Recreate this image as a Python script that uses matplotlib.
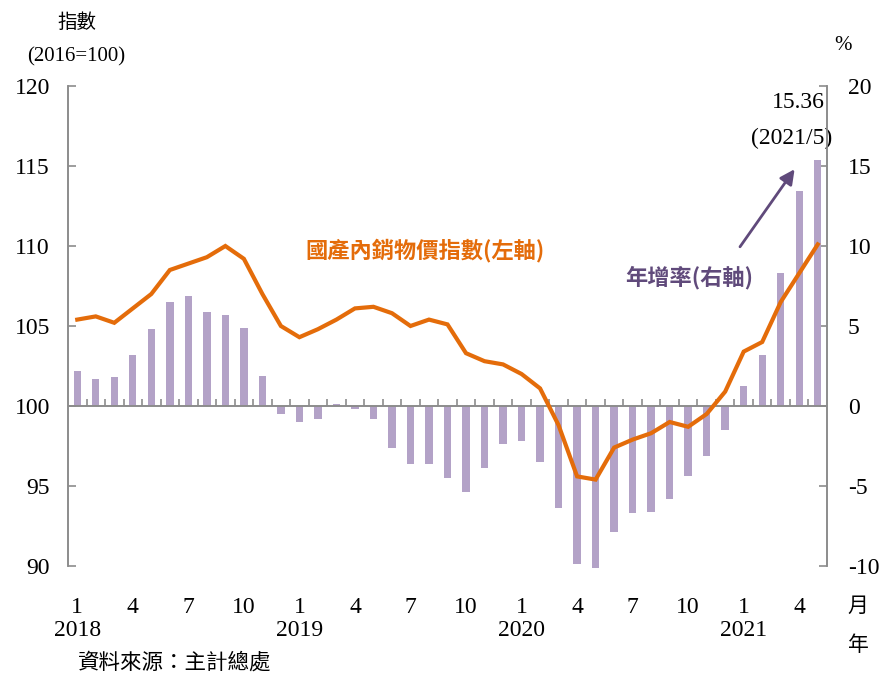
import matplotlib
matplotlib.use("Agg")
import matplotlib.pyplot as plt
import numpy as np

plt.rcParams['font.family'] = ['Liberation Serif', 'Noto Sans CJK TC', 'DejaVu Sans']

# Monthly series, 2018/1 - 2021/5
years = [2018, 2019, 2020, 2021]
months = [m for y in years for m in range(1, 13)][:41]
index_values = [
    105.4, 105.6, 105.2, 106.1, 107.0, 108.5, 108.9, 109.3, 110.0, 109.2, 107.0, 105.0,
    104.3, 104.8, 105.4, 106.1, 106.2, 105.8, 105.0, 105.4, 105.1, 103.3, 102.8, 102.6,
    102.0, 101.1, 98.8, 95.6, 95.4, 97.4, 97.9, 98.3, 99.0, 98.7, 99.5, 100.9,
    103.4, 104.0, 106.5, 108.3, 110.1,
]
yoy_growth = [
    2.2, 1.7, 1.8, 3.2, 4.8, 6.5, 6.9, 5.9, 5.7, 4.9, 1.9, -0.5,
    -1.0, -0.8, 0.1, -0.2, -0.8, -2.6, -3.6, -3.6, -4.5, -5.4, -3.9, -2.4,
    -2.2, -3.5, -6.4, -9.9, -10.1, -7.9, -6.7, -6.6, -5.8, -4.4, -3.1, -1.5,
    1.25, 3.2, 8.3, 13.45, 15.36,
]
tick_months = [1, 4, 7, 10]
line_label = "國產內銷物價指數(左軸)"
bar_label = "年增率(右軸)"
source_text = "資料來源：主計總處"

ORANGE = "#e46c0a"
PURPLE_BAR = "#b3a2c7"
PURPLE_TXT = "#604a7b"
GRAY = "#8c8c8c"
CJK = ['Noto Sans CJK TC', 'Liberation Serif']

fig = plt.figure(figsize=(8.81, 6.78), dpi=100)
ax = fig.add_axes([68 / 881, 1 - 566 / 678, (827 - 68) / 881, (566 - 86) / 678])
ax2 = ax.twinx()
ax.set_zorder(ax2.get_zorder() + 1)
ax.patch.set_visible(False)

x = np.arange(len(months))

# growth bars on the right axis
ax2.bar(x, yoy_growth, width=0.4, color=PURPLE_BAR, zorder=2, clip_on=False)
ax2.set_ylim(-10, 20)
ax2.set_yticks(np.arange(-10, 21, 5))
ax2.set_yticklabels([str(v) for v in range(-10, 21, 5)], fontsize=17)

# index line on the left axis
ax.plot(x, index_values, color=ORANGE, lw=3.0, solid_joinstyle='miter', zorder=5)
ax.set_ylim(90, 120)
ax.set_yticks(np.arange(90, 121, 5))
ax.set_yticklabels([str(v) for v in range(90, 121, 5)], fontsize=17)
ax.set_xlim(-0.5, len(months) - 0.5)

for a in (ax, ax2):
    for s in ('top', 'bottom'):
        a.spines[s].set_visible(False)
    for s in ('left', 'right'):
        a.spines[s].set_color(GRAY)
        a.spines[s].set_linewidth(1.2)
ax.tick_params(axis='y', direction='in', length=6, width=1.2, color=GRAY, pad=13)
ax2.tick_params(axis='y', direction='in', length=6, width=1.2, color=GRAY, pad=15)

# zero line with month separators
ax.axhline(100, color=GRAY, lw=1.4, zorder=3)
bounds = np.arange(0.5, len(months) - 1, 1.0)
ax.vlines(bounds, 1 / 3, 1 / 3 + 0.015, transform=ax.get_xaxis_transform(),
          color=GRAY, lw=1.2, zorder=3)

# month and year labels
pos = [i for i, m in enumerate(months) if m in tick_months]
ax.set_xticks(pos)
ax.set_xticklabels([str(months[i]) for i in pos], fontsize=17)
ax.tick_params(axis='x', length=0, pad=22)
for i, m in enumerate(months):
    if m == 1:
        ax.text(i, -0.135, str(years[i // 12]), transform=ax.get_xaxis_transform(),
                ha='center', va='center', fontsize=17)

fig.text(858 / 881, 1 - 606 / 678, "月", fontsize=15, family=CJK, ha='center', va='center')
fig.text(858 / 881, 1 - 645 / 678, "年", fontsize=15, family=CJK, ha='center', va='center')
fig.text(78 / 881, 1 - 663 / 678, source_text, fontsize=15.5, family=CJK, ha='left', va='center')

# axis headers
fig.text(77 / 881, 1 - 23 / 678, "指數", fontsize=14, family=CJK, ha='center', va='center')
fig.text(76 / 881, 1 - 57 / 678, "(2016=100)", fontsize=15, ha='center', va='center')
fig.text(843 / 881, 1 - 45 / 678, "%", fontsize=15, ha='center', va='center')

# series labels
ax.text(12.3, 109.75, line_label, color=ORANGE, fontsize=16, fontweight='bold',
        family=CJK, ha='left', va='center')
ax.text(29.6, 108.05, bar_label, color=PURPLE_TXT, fontsize=16, fontweight='bold',
        family=CJK, ha='left', va='center')

# callout for the latest growth value
last = len(months) - 1
ax.annotate("", xy=(38.75, 114.8), xytext=(35.8, 109.95),
            arrowprops=dict(arrowstyle='-|>', color=PURPLE_TXT, lw=2.0,
                            mutation_scale=22, shrinkA=0, shrinkB=0))
ax2.text(38.95, 18.95, f"{yoy_growth[last]:.2f}", fontsize=17, ha='center', va='center')
ax2.text(38.6, 16.75, f"({years[last // 12]}/{months[last]})", fontsize=17,
         ha='center', va='center')

fig.savefig("out.png", dpi=100)
